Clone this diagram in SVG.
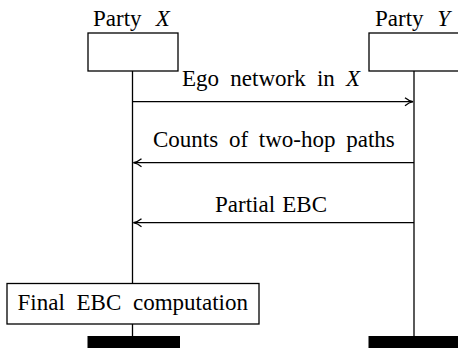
<svg xmlns="http://www.w3.org/2000/svg" width="458" height="350" viewBox="0 0 458 350">
<style>
text{font-family:"Liberation Serif","Times New Roman",serif;font-size:23px;fill:#000}
.box{fill:#fff;stroke:#000;stroke-width:1.3}
.life{stroke:#000;stroke-width:1.3;fill:none}
.msg{stroke:#000;stroke-width:1.3;fill:none;marker-end:url(#arr)}
.bar{fill:#000}
</style>
<defs>
<marker id="arr" viewBox="0 0 10 10" refX="9" refY="5" markerWidth="10" markerHeight="10" markerUnits="userSpaceOnUse" orient="auto">
<path d="M1,1 Q5,4.2 9,5 Q5,5.8 1,9" fill="none" stroke="#000" stroke-width="1.3"/>
</marker>
</defs>
<g id="lifelines">
<line class="life" x1="132.5" y1="71" x2="132.5" y2="336"/>
<line class="life" x1="414" y1="71" x2="414" y2="336"/>
</g>
<g id="partyX">
<text x="93" y="26" word-spacing="8.5">Party <tspan font-style="italic">X</tspan></text>
<rect class="box" x="88" y="33" width="90" height="38"/>
<rect class="bar" x="87.5" y="336" width="92.5" height="12"/>
</g>
<g id="partyY">
<text x="375" y="26" word-spacing="8">Party <tspan font-style="italic">Y</tspan></text>
<rect class="box" x="369" y="33" width="92" height="38"/>
<rect class="bar" x="368.5" y="336" width="92" height="12"/>
</g>
<g id="connectors">
<line class="msg" x1="132.5" y1="101.7" x2="413" y2="101.7"/>
<text x="182" y="86" word-spacing="5.5">Ego network in <tspan font-style="italic">X</tspan></text>
<line class="msg" x1="414" y1="162.7" x2="133.5" y2="162.7"/>
<text x="153" y="147" word-spacing="5">Counts of two-hop paths</text>
<line class="msg" x1="414" y1="222.7" x2="133.5" y2="222.7"/>
<text x="215" y="212" word-spacing="1.5">Partial EBC</text>
</g>
<g id="final">
<rect class="box" x="7" y="283.5" width="252" height="40.5"/>
<text x="17.5" y="310" word-spacing="6">Final EBC computation</text>
</g>
</svg>
